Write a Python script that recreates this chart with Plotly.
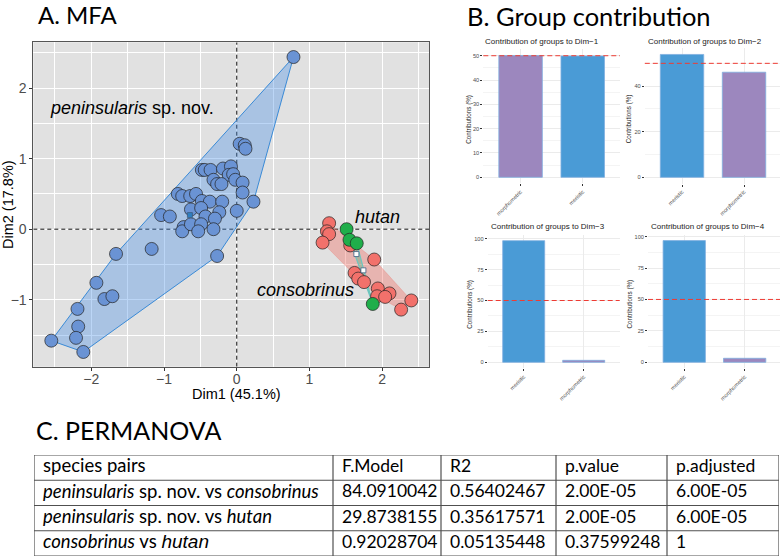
import plotly.graph_objects as go

W, H = 780, 560

# ---------------- data : MFA individuals ----------------
pen_x = [0.04, 0.11, 0.12, -0.48, -0.44, -0.36, -0.19, -0.08, -0.11, -0.05, -0.32, -0.27, -0.21,
         -0.02, 0.08, 0.08, 0.23, -0.81, -0.75, -0.64, -0.56, -0.48, -0.37, -0.20, -0.63, -0.49,
         -0.24, -0.43, -0.30, 0.00, -1.04, -0.92, -0.73, -0.75, -0.63, -0.49, -0.53, -0.32,
         -1.17, -1.66, -0.27, -1.93, -1.82, -1.71, -2.19, -2.18, -2.21, -2.55, -2.11, 0.78]
pen_y = [1.21, 1.19, 1.14, 0.84, 0.84, 0.84, 0.86, 0.89, 0.77, 0.78, 0.70, 0.64, 0.64,
         0.70, 0.66, 0.52, 0.39, 0.50, 0.47, 0.47, 0.50, 0.40, 0.39, 0.39, 0.28, 0.30,
         0.24, 0.18, 0.15, 0.26, 0.20, 0.18, 0.03, -0.03, 0.07, 0.07, -0.03, 0.00,
         -0.28, -0.35, -0.38, -0.76, -0.99, -0.95, -1.13, -1.38, -1.54, -1.58, -1.74, 2.44]
con_x = [1.27, 1.24, 1.27, 1.18, 1.56, 1.89, 1.62, 1.67, 1.75, 1.94, 2.10, 1.93, 2.04, 2.40, 2.26]
con_y = [0.085, -0.03, -0.07, -0.19, -0.23, -0.43, -0.62, -0.70, -0.75, -0.84, -0.91, -0.95, -0.96, -1.01, -1.14]
hut_x = [1.51, 1.55, 1.65, 1.87]
hut_y = [0.00, -0.15, -0.20, -1.06]

dim1_title = "Dim1 (45.1%)"
dim2_title = "Dim2 (17.8%)"

# ---------------- data : group contributions ----------------
contrib_dims = ["Dim\u22121", "Dim\u22122", "Dim\u22123", "Dim\u22124"]
contrib_groups = [["morphometric", "meristic"],
                  ["meristic", "morphometric"],
                  ["meristic", "morphometric"],
                  ["meristic", "morphometric"]]
contrib_values = [[50.1, 49.9],
                  [53.9, 46.1],
                  [98.4, 1.6],
                  [96.8, 3.2]]
contrib_ticks = [[0, 10, 20, 30, 40, 50],
                 [0, 20, 40],
                 [0, 25, 50, 75, 100],
                 [0, 25, 50, 75, 100]]
ref_line = 50

# ---------------- data : PERMANOVA table ----------------
tbl_header = ["species pairs", "F.Model", "R2", "p.value", "p.adjusted"]
tbl_pairs = ["<i>peninsularis</i> sp. nov. vs <i>consobrinus</i>",
             "<i>peninsularis</i> sp. nov. vs <i>hutan</i>",
             "<i>consobrinus</i> vs <span style=\"font-family:Liberation Sans;font-size:19px\"><i>hutan</i></span>"]
tbl_f = ["84.0910042", "29.8738155", "0.92028704"]
tbl_r2 = ["0.56402467", "0.35617571", "0.05135448"]
tbl_p = ["2.00E-05", "2.00E-05", "0.37599248"]
tbl_padj = ["6.00E-05", "6.00E-05", "1"]

# table column widths and text sizes (style)
tbl_colw = [299, 108, 115, 111, 112]
tbl_fsize = [18.5, 17.5, 17.5, 17.5, 17.5]

# ---------------- helpers ----------------
def hx(p):
    return p / W

def hy(p):
    return 1 - p / H

def convex_hull(xs, ys):
    pts = sorted(set(zip(xs, ys)))
    def cross(o, a, b):
        return (a[0] - o[0]) * (b[1] - o[1]) - (a[1] - o[1]) * (b[0] - o[0])
    lower = []
    for p in pts:
        while len(lower) >= 2 and cross(lower[-2], lower[-1], p) <= 0:
            lower.pop()
        lower.append(p)
    upper = []
    for p in reversed(pts):
        while len(upper) >= 2 and cross(upper[-2], upper[-1], p) <= 0:
            upper.pop()
        upper.append(p)
    hull = lower[:-1] + upper[:-1]
    hull.append(hull[0])
    return [p[0] for p in hull], [p[1] for p in hull]

def mean(v):
    return sum(v) / len(v)

SANS = "Liberation Sans"
TITLE_FONT = "Lato"

BLUE_PT = "#6A93D4"
RED_PT = "#F2716B"
GREEN_PT = "#1FAE4A"
BAR_COL = {"morphometric": "#9C87BE", "meristic": "#4A9BD6"}

fig = go.Figure()

# ---------------- MFA panel ----------------
all_x = pen_x + con_x + hut_x
all_y = pen_y + con_y + hut_y
sx = max(all_x) - min(all_x)
sy = max(all_y) - min(all_y)
xr = [min(all_x) - 0.05 * sx, max(all_x) + 0.05 * sx]
yr = [min(all_y) - 0.05 * sy, max(all_y) + 0.05 * sy]

# reference lines at 0 (drawn first, under the hulls and points)
zl = dict(color="#111111", width=1, dash="4px,3px")
fig.add_trace(go.Scatter(x=[0, 0], y=yr, mode="lines", line=zl, hoverinfo="skip",
                         showlegend=False, xaxis="x", yaxis="y"))
fig.add_trace(go.Scatter(x=xr, y=[0, 0], mode="lines", line=zl, hoverinfo="skip",
                         showlegend=False, xaxis="x", yaxis="y"))

groups = [
    (pen_x, pen_y, BLUE_PT, "rgba(70,140,230,0.36)", "#3A8AD6", 1.0, "#2F7FC0"),
    (con_x, con_y, RED_PT, "rgba(240,100,90,0.36)", "rgba(240,100,90,0.45)", 0.6, "white"),
    (hut_x, hut_y, GREEN_PT, "rgba(40,180,120,0.30)", "#6CC6BE", 1.2, "white"),
]
for gx, gy, col, fillc, linec, lw, cfill in groups:
    hxs, hys = convex_hull(gx, gy)
    fig.add_trace(go.Scatter(x=hxs, y=hys, mode="lines", fill="toself", fillcolor=fillc,
                             line=dict(color=linec, width=lw), hoverinfo="skip",
                             showlegend=False, xaxis="x", yaxis="y"))
for gx, gy, col, fillc, linec, lw, cfill in groups:
    fig.add_trace(go.Scatter(x=gx, y=gy, mode="markers",
                             marker=dict(size=13, color=col, line=dict(color="#222222", width=0.7)),
                             showlegend=False, xaxis="x", yaxis="y"))
for gx, gy, col, fillc, linec, lw, cfill in groups:
    fig.add_trace(go.Scatter(x=[mean(gx)], y=[mean(gy)], mode="markers",
                             marker=dict(size=5, symbol="square", color=cfill,
                                         line=dict(color="#3d5d80", width=0.8)),
                             showlegend=False, xaxis="x", yaxis="y"))

mfa_axis_common = dict(
    showgrid=True, gridcolor="white", gridwidth=1.1,
    minor=dict(dtick=0.5, showgrid=True, gridcolor="white", gridwidth=0.5),
    zeroline=False, ticks="outside", ticklen=3, tickcolor="#333333", tickwidth=1,
    showline=True, mirror=True, linecolor="#555555", linewidth=0.8,
    tickfont=dict(family=SANS, size=14, color="#4D4D4D"),
    tickmode="linear", tick0=0, dtick=1,
)

layout = dict(
    width=W, height=H, margin=dict(l=0, r=0, t=0, b=0),
    paper_bgcolor="white", plot_bgcolor="white", showlegend=False,
    xaxis=dict(domain=[hx(33.3), hx(429.3)], range=xr, anchor="y",
               ticklabelstandoff=-3, **mfa_axis_common),
    yaxis=dict(domain=[hy(366.7), hy(42.3)], range=yr, anchor="x", **mfa_axis_common),
)

shapes = [
    dict(type="rect", xref="x domain", yref="y domain", x0=0, x1=1, y0=0, y1=1,
         fillcolor="#E1E1E1", line=dict(width=0), layer="below"),
]

annotations = [
    dict(text="<i>peninsularis</i> sp. nov.", x=-2.59, y=1.72, xref="x", yref="y",
         xanchor="left", yanchor="middle", showarrow=False,
         font=dict(family=SANS, size=18, color="black")),
    dict(text="<i>hutan</i>", x=1.60, y=0.17, xref="x", yref="y",
         xanchor="left", yanchor="middle", showarrow=False,
         font=dict(family=SANS, size=18, color="black")),
    dict(text="<i>consobrinus</i>", x=0.95, y=-0.86, xref="x", yref="y",
         xanchor="center", yanchor="middle", showarrow=False,
         font=dict(family=SANS, size=18, color="black")),
    dict(text=dim1_title, x=hx(237), y=hy(394), xref="paper", yref="paper",
         xanchor="center", yanchor="middle", showarrow=False,
         font=dict(family=SANS, size=14.5, color="black")),
    dict(text=dim2_title, x=hx(8), y=hy(205), xref="paper", yref="paper", textangle=-90,
         xanchor="center", yanchor="middle", showarrow=False,
         font=dict(family=SANS, size=14.5, color="black")),
    dict(text="A. MFA", x=hx(37), y=hy(14.5), xref="paper", yref="paper",
         xanchor="left", yanchor="middle", showarrow=False, borderpad=0,
         font=dict(family=TITLE_FONT, size=24, color="black")),
    dict(text="B. Group contribution", x=hx(466), y=hy(15.5), xref="paper", yref="paper",
         xanchor="left", yanchor="middle", showarrow=False, borderpad=0,
         font=dict(family=TITLE_FONT, size=25.5, color="black")),
    dict(text="C. PERMANOVA", x=hx(34), y=hy(430), xref="paper", yref="paper",
         xanchor="left", yanchor="middle", showarrow=False,
         font=dict(family=TITLE_FONT, size=25, color="black")),
]

# ---------------- contribution panels ----------------
panel_geom = [
    # x0, x1, ytop, ybottom, xrange_end, title_cx, title_cy, ytitle_x
    (483.3, 620.0, 49.4, 183.4, 1.6, 541.7, 41.7, 469.3),
    (644.8, 780.0, 48.3, 183.5, 1.58, 705.0, 41.7, 629.3),
    (487.7, 619.7, 234.6, 368.4, 1.6, 547.5, 226.7, 469.3),
    (648.0, 780.0, 234.5, 368.4, 1.585, 708.3, 226.7, 630.0),
]
for i in range(4):
    ax = i + 2
    xa, ya = f"x{ax}", f"y{ax}"
    x0, x1, yt, yb, xend, tcx, tcy, ytx = panel_geom[i]
    vals = contrib_values[i]
    cats = contrib_groups[i]
    fig.add_trace(go.Bar(x=cats, y=vals, width=0.7,
                         marker=dict(color=[BAR_COL[c] for c in cats],
                                     line=dict(color="#7FAEDF", width=0.8)),
                         showlegend=False, xaxis=xa, yaxis=ya))
    m = max(vals)
    ticks = contrib_ticks[i]
    step = ticks[1] - ticks[0]
    layout[f"xaxis{ax}"] = dict(
        domain=[hx(x0), hx(x1)], anchor=ya, type="category", range=[-0.6, xend],
        showgrid=True, gridcolor="#EBEBEB", gridwidth=0.6, zeroline=False,
        ticks="outside", ticklen=2, tickcolor="#333333", tickwidth=0.8,
        tickangle=-45, tickfont=dict(family=SANS, size=5.5, color="#4D4D4D"),
        showline=False,
    )
    layout[f"yaxis{ax}"] = dict(
        domain=[hy(yb), hy(yt)], anchor=xa, range=[-0.05 * m, 1.05 * m],
        tickvals=ticks, showgrid=True, gridcolor="#EBEBEB", gridwidth=0.6,
        minor=dict(dtick=step / 2, tick0=0, showgrid=True, gridcolor="#F4F4F4", gridwidth=0.5),
        zeroline=False, ticks="outside", ticklen=2, tickcolor="#333333", tickwidth=0.8,
        tickfont=dict(family=SANS, size=5.6, color="#4D4D4D"), showline=False,
    )
    shapes.append(dict(type="line", xref=f"{xa} domain", yref=ya, x0=0, x1=1,
                       y0=ref_line, y1=ref_line,
                       line=dict(color="#EE3B33", width=1, dash="5px,3px"), layer="above"))
    annotations.append(dict(text="Contribution of groups to " + contrib_dims[i],
                            x=hx(tcx), y=hy(tcy), xref="paper", yref="paper",
                            xanchor="center", yanchor="middle", showarrow=False,
                            font=dict(family=SANS, size=8, color="#1A1A1A")))
    annotations.append(dict(text="Contributions (%)", x=hx(ytx), y=hy((yt + yb) / 2 + 3),
                            xref="paper", yref="paper", textangle=-90,
                            xanchor="center", yanchor="middle", showarrow=False,
                            font=dict(family=SANS, size=6.3, color="#1A1A1A")))

# ---------------- PERMANOVA table (on its own axes: x in column units, y in rows) ----------------
tbl_cols = [tbl_pairs, tbl_f, tbl_r2, tbl_p, tbl_padj]
n_rows = len(tbl_pairs) + 1
col_bounds = [0]
for w in tbl_colw:
    col_bounds.append(col_bounds[-1] + w)
cell_pad = 9

txt_x, txt_y, txt_s, txt_sz = [], [], [], []
for c, col in enumerate(tbl_cols):
    for r, val in enumerate([tbl_header[c]] + col):
        txt_x.append(col_bounds[c] + cell_pad)
        txt_y.append(r + 0.5)
        txt_s.append(val)
        txt_sz.append(tbl_fsize[c])
fig.add_trace(go.Scatter(x=txt_x, y=txt_y, text=txt_s, mode="text",
                         textposition="middle right",
                         textfont=dict(family="Lato", size=txt_sz, color="black"),
                         hoverinfo="skip", showlegend=False, xaxis="x6", yaxis="y6",
                         cliponaxis=False))

layout["xaxis6"] = dict(domain=[hx(34), hx(779)], anchor="y6", range=[0, col_bounds[-1]],
                        visible=False, fixedrange=True)
layout["yaxis6"] = dict(domain=[hy(556), hy(455)], anchor="x6", range=[n_rows, 0],
                        visible=False, fixedrange=True)
tline = dict(color="#505050", width=1.2)
for r in range(n_rows + 1):
    shapes.append(dict(type="line", xref="x6", yref="y6", x0=0, x1=col_bounds[-1],
                       y0=r, y1=r, line=tline, layer="above"))
for b in col_bounds:
    shapes.append(dict(type="line", xref="x6", yref="y6", x0=b, x1=b,
                       y0=0, y1=n_rows, line=tline, layer="above"))

layout["shapes"] = shapes
layout["annotations"] = annotations
fig.update_layout(**layout)

fig.write_html("out.html")
